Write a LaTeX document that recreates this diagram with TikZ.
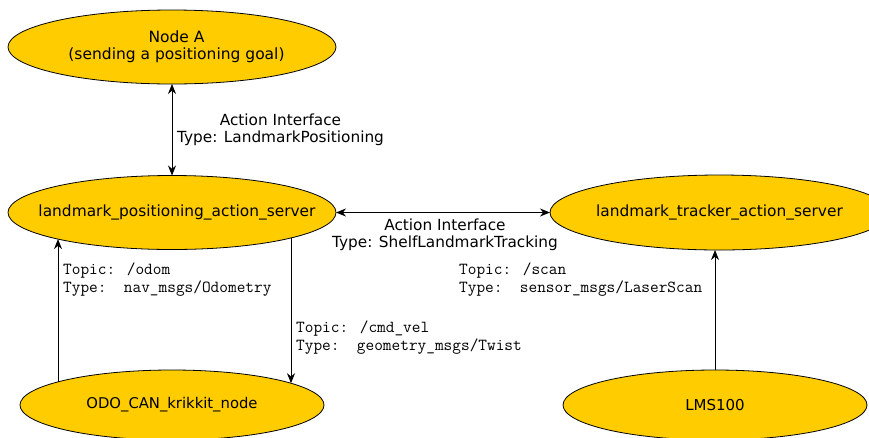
\documentclass[tikz,border=0pt]{standalone}
\usepackage{fontspec}
\setmainfont{DejaVu Sans}
\usetikzlibrary{arrows.meta,shapes.geometric,calc}
\definecolor{nodefill}{HTML}{FFCC00}
\begin{document}
\begin{tikzpicture}[x=1pt,y=-1pt,
  rosnode/.style={ellipse,draw=black,line width=0.8pt,fill=nodefill,inner sep=0pt,outer sep=0pt},
  nodetext/.style={font=\fontsize{#1}{17}\selectfont,align=center},
  nodetext/.default=15.4,
  link/.style={line width=0.9pt,-{Stealth[length=10pt,width=8pt]}},
  biline/.style={line width=0.9pt,{Stealth[length=10pt,width=8pt]}-{Stealth[length=10pt,width=8pt]}},
  ifacelbl/.style={align=center,font=\fontsize{15.3}{17}\selectfont,inner sep=0pt},
  topiclbl/.style={align=left,anchor=west,font=\ttfamily\fontsize{16.85}{18}\selectfont,inner sep=0pt},
]
\useasboundingbox (0,0) rectangle (869,437);
\fill[white] (0,0) rectangle (869,437);
\clip (0,0) rectangle (869,437);

% ROS nodes
\node[rosnode,minimum width=328pt,minimum height=74pt,
  label={[nodetext=15.5,xshift=4.5pt]center:Node A\\(sending a positioning goal)}] (A) at (172,47) {};
\node[rosnode,minimum width=328pt,minimum height=74pt,
  label={[nodetext=15.4,xshift=5pt]center:landmark\_positioning\_action\_server}] (P) at (172,212.5) {};
\node[rosnode,minimum width=339pt,minimum height=75pt,
  label={[nodetext=15.4]center:landmark\_tracker\_action\_server}] (T) at (719.5,212.5) {};
\node[rosnode,minimum width=304pt,minimum height=70pt,
  label={[nodetext=14.8]center:ODO\_CAN\_krikkit\_node}] (O) at (172,405) {};
\node[rosnode,minimum width=304pt,minimum height=70pt,
  label={[nodetext=15]center:LMS100}] (L) at (715,405) {};

% action interfaces
\draw[biline] (P.north) -- (A.south);
\draw[biline] (P.east) -- (T.west);

% topics (vertical connectors meeting the ellipse borders)
\draw[link] ($(O.center)+(-114,-23.15)$) -- ($(P.center)+(-114,26.6)$);
\draw[link] ($(P.center)+(119,25.46)$) -- ($(O.center)+(119,-21.78)$);
\draw[link] (L.north) -- ($(T.center)+(-4.5,37.5)$);

% labels
\node[ifacelbl] (lblA) at (280.5,129.5) {Action Interface\\Type: LandmarkPositioning};
\node[ifacelbl] (lblT) at (445,234.5) {Action Interface\\Type: ShelfLandmarkTracking};
\node[topiclbl] (lblodom) at (63,280) {Topic: /odom\\Type:\ \ nav\_msgs/Odometry};
\node[topiclbl] (lblcmd) at (296,338) {Topic: /cmd\_vel\\Type:\ \ geometry\_msgs/Twist};
\node[topiclbl] (lblscan) at (459,280) {Topic: /scan\\Type:\ \ sensor\_msgs/LaserScan};
\end{tikzpicture}
\end{document}
